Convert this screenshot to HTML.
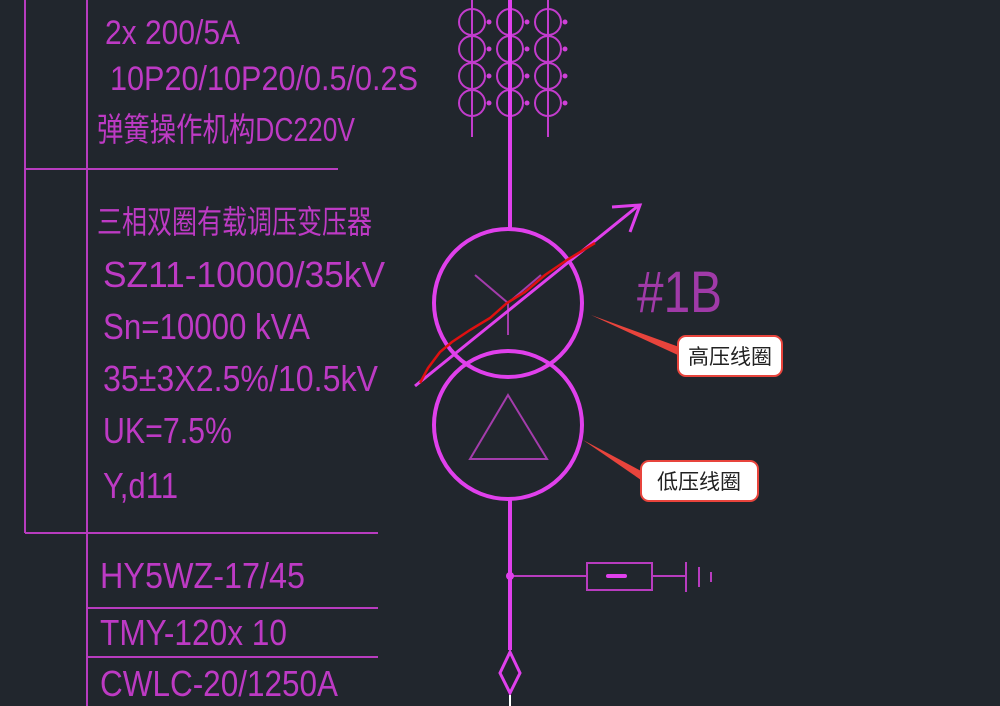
<!DOCTYPE html>
<html><head><meta charset="utf-8"><style>
body{margin:0;background:#21262d;}
svg{display:block}
.t{font-family:"Liberation Sans","Noto Sans CJK SC",sans-serif;fill:#bd3ac4;font-size:34px}
</style></head><body>
<svg width="1000" height="706" viewBox="0 0 1000 706" xmlns="http://www.w3.org/2000/svg">
<rect width="1000" height="706" fill="#21262d"/>
<g stroke="#b83cbf" stroke-width="2" fill="none">
<line x1="25" y1="0" x2="25" y2="533"/>
<line x1="87" y1="0" x2="87" y2="706"/>
<line x1="25" y1="169" x2="338" y2="169"/>
<line x1="25" y1="533" x2="378" y2="533"/>
<line x1="87" y1="608" x2="378" y2="608"/>
<line x1="87" y1="657" x2="378" y2="657"/>
</g>
<g class="t">
<text x="105" y="44" textLength="135" lengthAdjust="spacingAndGlyphs">2x 200/5A</text>
<text x="110" y="90" textLength="308" lengthAdjust="spacingAndGlyphs">10P20/10P20/0.5/0.2S</text>
<text x="97" y="141" font-size="33" textLength="258" lengthAdjust="spacingAndGlyphs">弹簧操作机构DC220V</text>
<text x="97" y="233" font-size="32" textLength="275" lengthAdjust="spacingAndGlyphs">三相双圈有载调压变压器</text>
<text x="103" y="287" font-size="36" textLength="282" lengthAdjust="spacingAndGlyphs">SZ11-10000/35kV</text>
<text x="103" y="339" font-size="36" textLength="207" lengthAdjust="spacingAndGlyphs">Sn=10000 kVA</text>
<text x="103" y="391" font-size="36" textLength="275" lengthAdjust="spacingAndGlyphs">35±3X2.5%/10.5kV</text>
<text x="103" y="443" font-size="36" textLength="129" lengthAdjust="spacingAndGlyphs">UK=7.5%</text>
<text x="103" y="498" font-size="36" textLength="75" lengthAdjust="spacingAndGlyphs">Y,d11</text>
<text x="100" y="588" font-size="36" textLength="205" lengthAdjust="spacingAndGlyphs">HY5WZ-17/45</text>
<text x="100" y="645" font-size="36" textLength="187" lengthAdjust="spacingAndGlyphs">TMY-120x 10</text>
<text x="100" y="696" font-size="36" textLength="238" lengthAdjust="spacingAndGlyphs">CWLC-20/1250A</text>
<text x="637" y="312" font-size="58" fill="#a03aa8" textLength="85" lengthAdjust="spacingAndGlyphs">#1B</text>
</g>
<g stroke="#c23ccc" stroke-width="2" fill="none">
<line x1="472" y1="0" x2="472" y2="137"/>
<line x1="548" y1="0" x2="548" y2="137"/>
<circle cx="472" cy="22" r="13"/><circle cx="472" cy="49" r="13"/><circle cx="472" cy="76" r="13"/><circle cx="472" cy="103" r="13"/>
<circle cx="510" cy="22" r="13"/><circle cx="510" cy="49" r="13"/><circle cx="510" cy="76" r="13"/><circle cx="510" cy="103" r="13"/>
<circle cx="548" cy="22" r="13"/><circle cx="548" cy="49" r="13"/><circle cx="548" cy="76" r="13"/><circle cx="548" cy="103" r="13"/>
</g>
<g fill="#d040d8"><circle cx="489" cy="22" r="2.5"/><circle cx="489" cy="49" r="2.5"/><circle cx="489" cy="76" r="2.5"/><circle cx="489" cy="103" r="2.5"/>
<circle cx="527" cy="22" r="2.5"/><circle cx="527" cy="49" r="2.5"/><circle cx="527" cy="76" r="2.5"/><circle cx="527" cy="103" r="2.5"/>
<circle cx="565" cy="22" r="2.5"/><circle cx="565" cy="49" r="2.5"/><circle cx="565" cy="76" r="2.5"/><circle cx="565" cy="103" r="2.5"/></g>
<g stroke="#e040ec" stroke-width="4" fill="none">
<line x1="510" y1="0" x2="510" y2="228"/>
<line x1="510" y1="499" x2="510" y2="650"/>
<circle cx="508" cy="303" r="74"/>
<circle cx="508" cy="425" r="74"/>
</g>
<g stroke="#a43cac" stroke-width="2" fill="none">
<line x1="475" y1="275" x2="508" y2="303"/><line x1="541" y1="275" x2="508" y2="303"/><line x1="508" y1="303" x2="508" y2="335"/>
<polygon points="508,395 470,459 547,459"/>
</g>
<g stroke="#e040ec" stroke-width="3" fill="none">
<line x1="415" y1="386" x2="638" y2="206"/>
<polyline points="612,207 640,205 630,232"/>
</g>
<polyline points="420,383 428,368 440,352 452,342 470,330 490,318 507,303 525,292 545,275 567,260 595,243" stroke="#e01010" stroke-width="2.5" fill="none"/>
<g stroke="#b83cbf" stroke-width="2" fill="none">
<line x1="510" y1="576" x2="587" y2="576"/>
<rect x="587" y="563" width="65" height="27"/>
<line x1="652" y1="576" x2="686" y2="576"/>
<line x1="686" y1="562" x2="686" y2="592"/>
<line x1="699" y1="567" x2="699" y2="587"/>
<line x1="711" y1="572" x2="711" y2="582"/>
</g>
<circle cx="510" cy="576" r="4" fill="#e040ec"/>
<line x1="608" y1="576" x2="625" y2="576" stroke="#e040ec" stroke-width="4" stroke-linecap="round"/>
<polygon points="510,652 520,673 510,693 500,673" fill="none" stroke="#e040ec" stroke-width="3"/>
<line x1="510" y1="695" x2="510" y2="706" stroke="#fff" stroke-width="2"/>
<polygon points="591,315 682,348 680,356" fill="#e8443c"/>
<polygon points="583,440 643,472 641,480" fill="#e8443c"/>
<rect x="678" y="336" width="104" height="40" rx="8" fill="#fff" stroke="#e8443c" stroke-width="2"/>
<rect x="641" y="461" width="117" height="40" rx="8" fill="#fff" stroke="#e8443c" stroke-width="2"/>
<text x="730" y="364" text-anchor="middle" font-family="Liberation Sans,'Noto Sans CJK SC',sans-serif" font-size="21" fill="#222">高压线圈</text>
<text x="699" y="489" text-anchor="middle" font-family="Liberation Sans,'Noto Sans CJK SC',sans-serif" font-size="21" fill="#222">低压线圈</text>
</svg>
</body></html>
